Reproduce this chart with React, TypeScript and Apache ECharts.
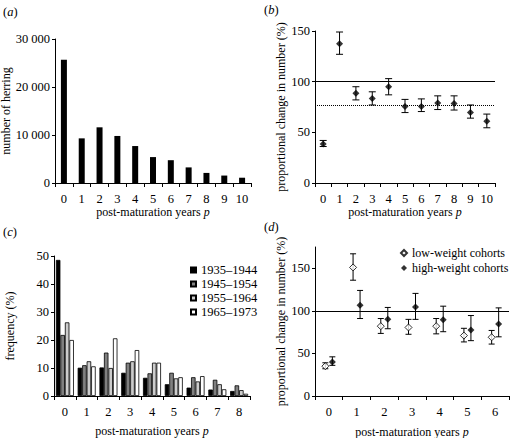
import React, { useEffect, useRef } from 'react';
import * as echarts from 'echarts';

const FONT = '"Liberation Serif", "Times New Roman", serif';
const FS = 12.5;
const FT = 12;

// (a) number of herring by post-maturation year
const yearsA = ['0', '1', '2', '3', '4', '5', '6', '7', '8', '9', '10'];
const herringCounts = [25700, 9300, 11600, 9800, 7700, 5400, 4750, 3250, 2100, 1550, 1100];

// (b) proportional change in number (%)
const yearsB = ['0', '1', '2', '3', '4', '5', '6', '7', '8', '9', '10'];
const bMean = [38.5, 137.5, 88.5, 83.5, 95, 75.5, 75.5, 79, 78.5, 69.5, 61];
const bLower = [36, 127, 82, 77, 87, 69.5, 70.5, 72.5, 72, 64, 54.5];
const bUpper = [42, 149, 95, 90, 103, 82.5, 83, 86, 86, 77, 68];
const bOverall = 76.5;
const reference = 100;

// (c) frequency (%) by cohort period
const yearsC = ['0', '1', '2', '3', '4', '5', '6', '7', '8'];
const cohortNames = ['1935–1944', '1945–1954', '1955–1964', '1965–1973'];
const freq1935 = [48.6, 10.1, 10.2, 8.3, 6.5, 4.2, 3.0, 2.3, 1.8];
const freq1945 = [21.8, 11.0, 15.5, 11.9, 8.1, 8.3, 6.7, 5.8, 3.8];
const freq1955 = [26.3, 12.4, 10.0, 12.4, 11.9, 6.3, 5.2, 4.2, 2.1];
const freq1965 = [20.0, 10.6, 20.6, 16.4, 11.9, 6.7, 7.1, 2.4, 0.8];
const cohortColors = ['#000000', '#808080', '#cccccc', '#ffffff'];

// (d) low- vs high-weight cohorts
const yearsD = ['0', '1', '2', '3', '4', '5', '6'];
const lowMean = [35, 151, 82, 80.5, 82, 71, 69];
const lowLower = [32, 136, 73.5, 72.5, 73, 63.5, 61];
const lowUpper = [39, 167, 91, 90, 91, 79.5, 77];
const highMean = [40, 106.5, 90, 104.5, 89.5, 77.5, 84.5];
const highLower = [36, 91, 79, 90, 75.5, 65, 69.5];
const highUpper = [46, 124, 104, 120.5, 105.5, 94.5, 103.5];

const txt = { fontFamily: FONT, fontSize: FS, color: '#000' };
const ttl = { fontFamily: FONT, fontSize: FT, color: '#000' };
const rich = { i: { fontFamily: FONT, fontSize: FT, color: '#000', fontStyle: 'italic' } };
const richL = { i: { fontFamily: FONT, fontSize: FS, color: '#000', fontStyle: 'italic' } };

function xAxisCat(gridIndex: number, data: string[], nameGap: number) {
  return {
    type: 'category',
    gridIndex,
    data,
    boundaryGap: true,
    name: 'post-maturation years {i|p}',
    nameLocation: 'middle',
    nameGap,
    nameTextStyle: { ...ttl, rich },
    axisLine: { lineStyle: { color: '#000', width: 1 } },
    axisTick: { show: true, length: 4, lineStyle: { color: '#000', width: 1 } },
    axisLabel: { ...txt, margin: 9, interval: 0 },
    splitLine: { show: false },
  };
}

function yAxisVal(gridIndex: number, name: string, nameGap: number, extra: any) {
  return {
    type: 'value',
    gridIndex,
    name,
    nameLocation: 'middle',
    nameGap,
    nameTextStyle: { ...ttl },
    axisLine: { show: true, lineStyle: { color: '#000', width: 1 } },
    axisTick: { show: true, length: 3, lineStyle: { color: '#000', width: 1 } },
    axisLabel: { ...txt, margin: 5 },
    splitLine: { show: false },
    ...extra,
  };
}

function errorBars(offsetPx: number, capHalf: number) {
  return (params: any, api: any) => {
    const x = api.value(0);
    const lo = api.coord([x, api.value(1)]);
    const hi = api.coord([x, api.value(2)]);
    const cx = lo[0] + offsetPx;
    const style = { stroke: '#000', lineWidth: 1, fill: 'none' };
    return {
      type: 'group',
      children: [
        { type: 'line', shape: { x1: cx, y1: lo[1], x2: cx, y2: hi[1] }, style },
        { type: 'line', shape: { x1: cx - capHalf, y1: hi[1], x2: cx + capHalf, y2: hi[1] }, style },
        { type: 'line', shape: { x1: cx - capHalf, y1: lo[1], x2: cx + capHalf, y2: lo[1] }, style },
      ],
    };
  };
}

function panelLabel(x: number, y: number, letter: string) {
  return {
    type: 'text',
    x,
    y,
    style: {
      text: '({i|' + letter + '})',
      fontFamily: FONT,
      fontSize: FS,
      fill: '#000',
      verticalAlign: 'middle',
      align: 'left',
      rich: richL,
    },
  };
}

export default function App() {
  const ref = useRef<HTMLDivElement>(null);
  useEffect(() => {
    document.body.style.margin = '0';
    const chart = echarts.init(ref.current!, null, { renderer: 'svg' });
    const cohortData = [freq1935, freq1945, freq1955, freq1965];
    const option: any = {
      animation: false,
      backgroundColor: '#fff',
      textStyle: { fontFamily: FONT },
      grid: [
        { left: 55, top: 39, width: 196, height: 144, outerBoundsMode: 'none' },
        { left: 315, top: 31, width: 180, height: 152, outerBoundsMode: 'none' },
        { left: 54, top: 256, width: 196, height: 140, outerBoundsMode: 'none' },
        { left: 315, top: 247, width: 194, height: 149, outerBoundsMode: 'none' },
      ],
      xAxis: [
        xAxisCat(0, yearsA, 23),
        xAxisCat(1, yearsB, 23),
        xAxisCat(2, yearsC, 29),
        xAxisCat(3, yearsD, 30),
      ],
      yAxis: [
        yAxisVal(0, 'number of herring', 38, {
          min: 0, max: 30000, interval: 10000,
          axisLabel: { ...txt, margin: 5, formatter: (v: number) => (v === 0 ? '0' : String(v / 1000) + ' 000') },
        }),
        yAxisVal(1, 'proportional change in number (%)', 25, { min: 0, max: 150, interval: 50 }),
        yAxisVal(2, 'frequency (%)', 38, { min: 0, max: 50, interval: 10 }),
        yAxisVal(3, 'proportional change in number (%)', 25, {
          min: 0, max: 175, interval: 25,
          axisTick: { show: true, length: 3, lineStyle: { color: '#000', width: 1 }, customValues: [0, 50, 100, 150] },
          axisLabel: { ...txt, margin: 5, customValues: [0, 50, 100, 150] },
        }),
      ],
      legend: [
        {
          orient: 'vertical', left: 190, top: 263, padding: 0,
          data: cohortNames, icon: 'rect', itemWidth: 5, itemHeight: 5, itemGap: 0,
          selectedMode: false,
          textStyle: { ...txt, lineHeight: 14 },
        },
        {
          orient: 'vertical', left: 400, top: 245.5, padding: 0,
          data: ['low-weight cohorts', 'high-weight cohorts'], itemWidth: 6, itemHeight: 6, itemGap: 0,
          selectedMode: false,
          textStyle: { ...txt, fontSize: 12, lineHeight: 15 },
        },
      ],
      graphic: [
        panelLabel(3, 12, 'a'),
        panelLabel(264, 10, 'b'),
        panelLabel(3, 232, 'c'),
        panelLabel(264, 227, 'd'),
      ],
      series: [
        {
          type: 'bar', xAxisIndex: 0, yAxisIndex: 0, data: herringCounts,
          barWidth: 6, itemStyle: { color: '#000' },
        },
        {
          type: 'custom', xAxisIndex: 1, yAxisIndex: 1, z: 2,
          renderItem: errorBars(0, 3.5),
          encode: { x: 0, y: [1, 2] },
          data: bMean.map((_, i) => [i, bLower[i], bUpper[i]]),
        },
        {
          type: 'scatter', xAxisIndex: 1, yAxisIndex: 1, z: 3,
          data: bMean, symbol: 'diamond', symbolSize: 7,
          itemStyle: { color: '#000' },
          markLine: {
            silent: true, symbol: ['none', 'none'], label: { show: false },
            data: [
              { yAxis: reference, lineStyle: { type: 'solid', color: '#000', width: 1 } },
              { yAxis: bOverall, lineStyle: { type: 'dotted', color: '#000', width: 1 } },
            ],
          },
        },
        ...cohortNames.map((name, k) => ({
          type: 'bar', name, xAxisIndex: 2, yAxisIndex: 2, data: cohortData[k],
          barWidth: 4.5, barGap: '0%',
          itemStyle: { color: cohortColors[k], borderColor: '#000', borderWidth: 0.8 },
        })),
        {
          type: 'custom', xAxisIndex: 3, yAxisIndex: 3, z: 2,
          renderItem: errorBars(-3.5, 3),
          encode: { x: 0, y: [1, 2] },
          data: lowMean.map((_, i) => [i, lowLower[i], lowUpper[i]]),
        },
        {
          type: 'custom', xAxisIndex: 3, yAxisIndex: 3, z: 2,
          renderItem: errorBars(3.5, 3),
          encode: { x: 0, y: [1, 2] },
          data: highMean.map((_, i) => [i, highLower[i], highUpper[i]]),
        },
        {
          type: 'scatter', name: 'low-weight cohorts', xAxisIndex: 3, yAxisIndex: 3, z: 3,
          data: lowMean, symbol: 'diamond', symbolSize: 7, symbolOffset: [-3.5, 0],
          itemStyle: { color: '#fff', borderColor: '#000', borderWidth: 1 },
          markLine: {
            silent: true, symbol: ['none', 'none'], label: { show: false },
            data: [{ yAxis: reference, lineStyle: { type: 'solid', color: '#000', width: 1 } }],
          },
        },
        {
          type: 'scatter', name: 'high-weight cohorts', xAxisIndex: 3, yAxisIndex: 3, z: 3,
          data: highMean, symbol: 'diamond', symbolSize: 7, symbolOffset: [3.5, 0],
          itemStyle: { color: '#000' },
        },
      ],
    };
    chart.setOption(option);
    return () => chart.dispose();
  }, []);
  return <div ref={ref} style={{ width: 511, height: 438 }} />;
}
